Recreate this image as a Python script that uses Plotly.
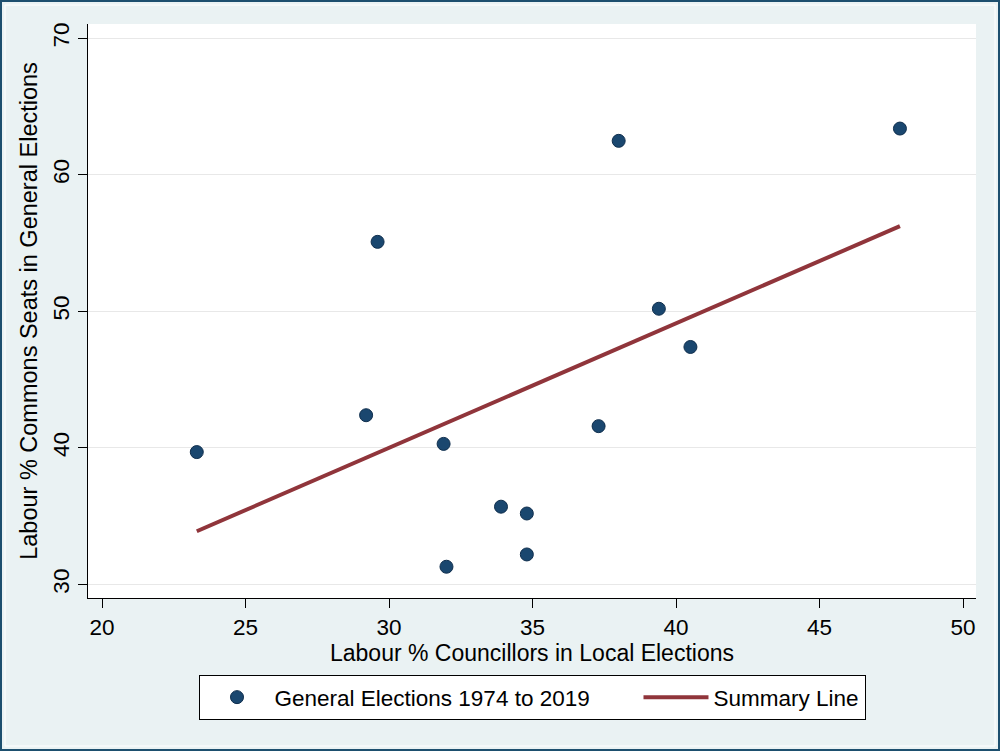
import plotly.graph_objects as go

# Data
local_pct = [23.3, 29.2, 29.6, 31.9, 32.0, 33.9, 34.8, 34.8, 37.3, 38.0, 39.4, 40.5, 47.8]
commons_pct = [39.7, 42.4, 55.1, 40.3, 31.3, 35.7, 35.2, 32.2, 41.6, 62.5, 50.2, 47.4, 63.4]
summary_x = [23.3, 47.8]
summary_y = [33.9, 56.25]
x_ticks = [20, 25, 30, 35, 40, 45, 50]
y_ticks = [30, 40, 50, 60, 70]

FONT = "Liberation Sans, Arial, sans-serif"
PAD = "\u00a0" * 7

fig = go.Figure()
fig.add_trace(go.Scatter(
    x=local_pct, y=commons_pct, mode="markers",
    name="General Elections 1974 to 2019" + PAD,
    marker=dict(size=13, color="#1a476f", line=dict(color="#0f2e4d", width=1)),
))
fig.add_trace(go.Scatter(
    x=summary_x, y=summary_y, mode="lines",
    name="Summary Line",
    line=dict(color="#90353b", width=4),
))

W, H = 1000, 751
L, R, T, B = 88, 24, 24, 153
pw, ph = W - L - R, H - T - B

def px(xp):
    return (xp - L) / pw

def py(yp):
    return (H - B - yp) / ph

fig.update_layout(
    width=W, height=H,
    margin=dict(l=L, r=R, t=T, b=B),
    paper_bgcolor="#eaf2f3",
    plot_bgcolor="white",
    font=dict(family=FONT, size=22.5, color="black"),
    showlegend=True,
    legend=dict(
        orientation="h",
        x=0.5, xanchor="center",
        y=py(675), yanchor="top",
        bgcolor="white",
        bordercolor="black", borderwidth=1,
        font=dict(family=FONT, size=22.5, color="black"),
        itemwidth=65,
        tracegroupgap=0,
    ),
    xaxis=dict(
        range=[19.51, 50.45],
        tickvals=x_ticks,
        showgrid=False, zeroline=False,
        showline=True, linecolor="black", linewidth=1,
        ticks="outside", ticklen=9, tickcolor="black",
        tickfont=dict(size=22.5),
        title=dict(text="Labour % Councillors in Local Elections",
                   font=dict(size=23), standoff=0),
    ),
    yaxis=dict(
        range=[29.01, 71.06],
        tickvals=y_ticks,
        tickangle=-90,
        showgrid=True, gridcolor="#e8e8e8", gridwidth=1,
        zeroline=False,
        showline=True, linecolor="black", linewidth=1,
        ticks="outside", ticklen=9, tickcolor="black",
        tickfont=dict(size=22.5),
        title=dict(text="Labour % Commons Seats in General Elections",
                   font=dict(size=23.5), standoff=4),
    ),
    shapes=[
        dict(type="rect", xref="paper", yref="paper", layer="below",
             x0=px(1), x1=px(999), y0=py(750), y1=py(1),
             line=dict(color="#1d4f6e", width=2), fillcolor="rgba(0,0,0,0)"),
        dict(type="rect", xref="paper", yref="paper", layer="below",
             x0=px(5), x1=px(995), y0=py(746), y1=py(5),
             line=dict(color="#ffffff", width=1), fillcolor="rgba(0,0,0,0)"),
    ],
)

fig.write_html("out.html", config={"displayModeBar": False},
               post_script="document.body.style.margin='0';")
